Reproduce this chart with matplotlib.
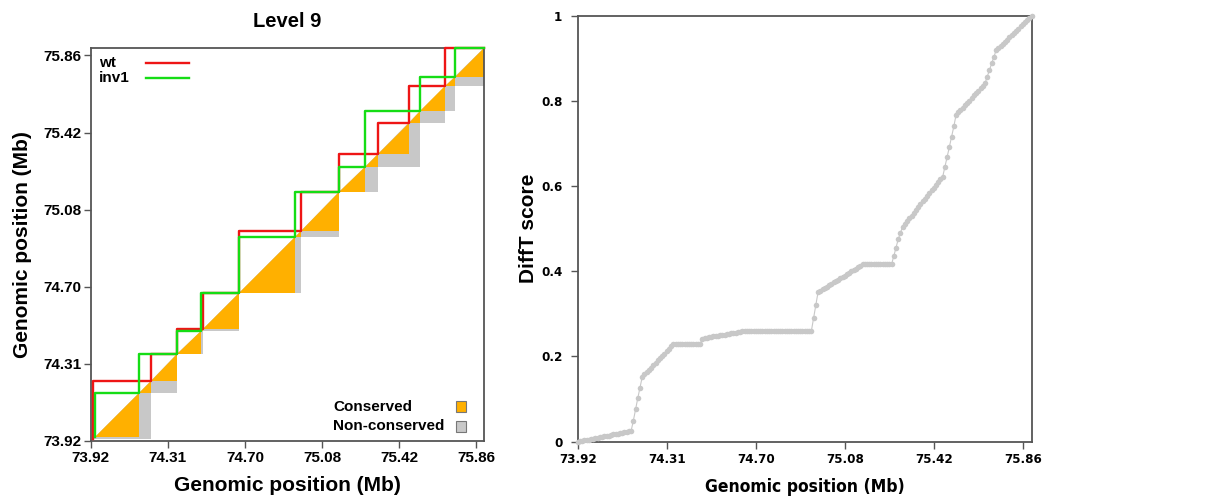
import matplotlib
matplotlib.use("Agg")
import matplotlib.pyplot as plt
from matplotlib import font_manager
from matplotlib.font_manager import FontProperties
from matplotlib.patches import Polygon, Rectangle

plt.rcParams['font.family'] = ['Liberation Sans', 'DejaVu Sans']

# TAD boundaries (bin index) for both samples at level 9
wt_bounds = [1, 31, 45, 58, 77, 109, 129, 149, 165, 184, 204]
inv1_bounds = [2, 25, 45, 57, 77, 106, 129, 142, 171, 189, 204]

tick_pos = [0, 40, 80, 120, 160, 200]
tick_labels = ["73.92", "74.31", "74.70", "75.08", "75.42", "75.86"]
n_bins = 204

# DiffT score along the region, one value per bin
difft = [
    0.000, 0.001, 0.002, 0.003, 0.004, 0.005, 0.006, 0.007, 0.008, 0.009,
    0.010, 0.011, 0.0125, 0.0135, 0.0145, 0.016, 0.017, 0.018, 0.019, 0.020,
    0.021, 0.022, 0.023, 0.024, 0.025, 0.049, 0.076, 0.102, 0.127, 0.152,
    0.158, 0.163, 0.169, 0.174, 0.180, 0.185, 0.191, 0.196, 0.202, 0.207,
    0.213, 0.218, 0.224, 0.229, 0.229, 0.229, 0.229, 0.229, 0.229, 0.229,
    0.229, 0.229, 0.229, 0.229, 0.229, 0.229, 0.242, 0.243, 0.244, 0.245,
    0.246, 0.247, 0.248, 0.249, 0.250, 0.251, 0.251, 0.252, 0.253, 0.254,
    0.255, 0.256, 0.257, 0.258, 0.259, 0.260, 0.260, 0.260, 0.260, 0.260,
    0.260, 0.260, 0.260, 0.260, 0.260, 0.260, 0.260, 0.260, 0.260, 0.260,
    0.260, 0.260, 0.260, 0.260, 0.260, 0.260, 0.260, 0.260, 0.260, 0.260,
    0.260, 0.260, 0.260, 0.260, 0.260, 0.260, 0.290, 0.320, 0.351, 0.354,
    0.358, 0.361, 0.364, 0.367, 0.371, 0.374, 0.377, 0.380, 0.384, 0.387,
    0.390, 0.393, 0.397, 0.400, 0.403, 0.406, 0.410, 0.413, 0.416, 0.416,
    0.416, 0.416, 0.416, 0.416, 0.416, 0.416, 0.416, 0.416, 0.416, 0.416,
    0.416, 0.416, 0.435, 0.455, 0.475, 0.490, 0.505, 0.512, 0.518, 0.525,
    0.531, 0.538, 0.544, 0.551, 0.557, 0.564, 0.570, 0.577, 0.583, 0.590,
    0.596, 0.603, 0.609, 0.616, 0.622, 0.645, 0.668, 0.692, 0.716, 0.740,
    0.767, 0.773, 0.778, 0.784, 0.790, 0.796, 0.801, 0.807, 0.813, 0.818,
    0.824, 0.830, 0.835, 0.841, 0.857, 0.872, 0.888, 0.903, 0.919, 0.924,
    0.929, 0.934, 0.939, 0.944, 0.949, 0.954, 0.959, 0.965, 0.970, 0.975,
    0.980, 0.985, 0.990, 0.995, 1.000,
]

ORANGE = '#ffb000'
GREY = '#c8c8c8'
RED = '#ee1515'
GREEN = '#15dd15'
FRAME = '#555555'


def condensed_bold():
    # bold condensed face for the score panel labels, if one is installed
    for f in font_manager.fontManager.ttflist:
        cond = ('Condensed' in f.name or 'Narrow' in f.name
                or f.stretch in ('condensed', 'semi-condensed'))
        w = f.weight if isinstance(f.weight, int) else font_manager.weight_dict.get(f.weight, 400)
        if cond and w >= 600 and f.style == 'normal':
            return f.fname
    return None


cond_file = condensed_bold()


def cond_font(size):
    if cond_file:
        return FontProperties(fname=cond_file, size=size)
    return FontProperties(family='Liberation Sans', weight='bold', size=size * 0.85)


def tads(bounds):
    return list(zip(bounds[:-1], bounds[1:]))


def staircase(bounds):
    xs, ys = [bounds[0]], [bounds[0]]
    for a, b in tads(bounds):
        xs += [a, b]
        ys += [b, b]
    return xs, ys


def style_frame(ax):
    for sp in ax.spines.values():
        sp.set_color(FRAME)
        sp.set_linewidth(1.3)
    ax.tick_params(direction='out', length=5, width=1, color=FRAME)


fig = plt.figure(figsize=(12.05, 4.97), dpi=100)

# ---- left: TAD comparison ----
ax1 = fig.add_axes([0.0753, 0.1127, 0.3264, 0.7913])

# non-conserved = any TAD triangle, conserved = overlap of a wt and an inv1 TAD
for a, b in tads(wt_bounds) + tads(inv1_bounds):
    ax1.add_patch(Polygon([(a, a), (b, a), (b, b)], closed=True,
                          fc=GREY, ec='none', zorder=1))
for a1, b1 in tads(wt_bounds):
    for a2, b2 in tads(inv1_bounds):
        lo, hi = max(a1, a2), min(b1, b2)
        if hi > lo:
            ax1.add_patch(Polygon([(lo, lo), (hi, lo), (hi, hi)], closed=True,
                                  fc=ORANGE, ec='none', zorder=2))

xs, ys = staircase(wt_bounds)
ax1.plot(xs, ys, color=RED, lw=1.7, solid_joinstyle='round', zorder=3, clip_on=False)
xs, ys = staircase(inv1_bounds)
ax1.plot(xs, ys, color=GREEN, lw=1.7, solid_joinstyle='round', zorder=4, clip_on=False)

ax1.set_xlim(0, n_bins)
ax1.set_ylim(0, n_bins)
ax1.set_xticks(tick_pos)
ax1.set_xticklabels(tick_labels)
ax1.set_yticks(tick_pos)
ax1.set_yticklabels(tick_labels)
style_frame(ax1)
ax1.tick_params(labelsize=11, pad=2)
for lab in ax1.get_xticklabels() + ax1.get_yticklabels():
    lab.set_fontweight('bold')
ax1.set_xlabel("Genomic position (Mb)", fontsize=15, fontweight='bold', labelpad=8)
ax1.set_ylabel("Genomic position (Mb)", fontsize=15, fontweight='bold', labelpad=8)
ax1.set_title("Level 9", fontsize=14.5, fontweight='bold', pad=15)

# sample key (top left)
for i, (name, col) in enumerate([("wt", RED), ("inv1", GREEN)]):
    yk = 0.962 - i * 0.04
    ax1.text(0.02, yk, name, transform=ax1.transAxes, fontsize=11,
             fontweight='bold', va='center', ha='left')
    ax1.plot([0.141, 0.25], [yk, yk], transform=ax1.transAxes, color=col, lw=1.7)

# conservation key (bottom right)
for i, (name, col) in enumerate([("Conserved", ORANGE), ("Non-conserved", GREY)]):
    yk = 0.087 - i * 0.05
    ax1.text(0.617, yk, name, transform=ax1.transAxes, fontsize=11,
             fontweight='bold', va='center', ha='left')
    ax1.add_patch(Rectangle((0.928, yk - 0.013), 0.027, 0.027, transform=ax1.transAxes,
                            fc=col, ec='#777777', lw=0.8, zorder=5))

# ---- right: DiffT score ----
ax2 = fig.add_axes([0.4794, 0.1113, 0.3768, 0.857])
bins = list(range(len(difft)))
ax2.plot(bins, difft, color=GREY, lw=0.8, marker='o', ms=4, mec='none',
         mfc=GREY, clip_on=False, zorder=3)
ax2.set_xlim(0, n_bins)
ax2.set_ylim(0, 1)
ax2.set_xticks(tick_pos)
ax2.set_xticklabels(tick_labels)
ax2.set_yticks([0, 0.2, 0.4, 0.6, 0.8, 1.0])
ax2.set_yticklabels(["0", "0.2", "0.4", "0.6", "0.8", "1"])
style_frame(ax2)
ax2.tick_params(axis='x', pad=3)
ax2.tick_params(axis='y', pad=6)
for lab in ax2.get_xticklabels() + ax2.get_yticklabels():
    lab.set_fontproperties(cond_font(9.5))
ax2.set_xlabel("Genomic position (Mb)", fontproperties=cond_font(12.5), labelpad=9)
ax2.set_ylabel("DiffT score", fontsize=15, fontweight='bold', labelpad=2)

fig.savefig("out.png", dpi=100)
